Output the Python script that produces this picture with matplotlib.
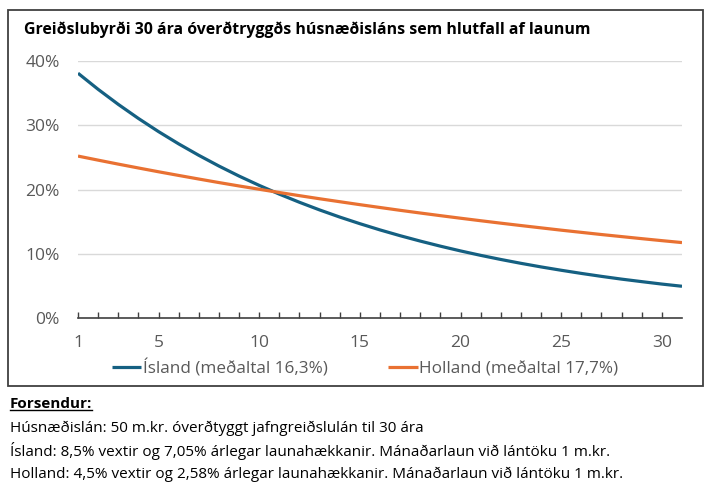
import matplotlib
matplotlib.use("Agg")
import matplotlib.pyplot as plt
import matplotlib.patches as patches
from matplotlib.lines import Line2D
from matplotlib.ticker import FixedLocator, FuncFormatter

plt.rcParams['font.family'] = ['Open Sans', 'DejaVu Sans']

# data (share of monthly wages, %)
years = list(range(1, 32))
island = [38.10, 35.59, 33.25, 31.06, 29.01, 27.10, 25.32, 23.65, 22.09, 20.64,
          19.28, 18.01, 16.82, 15.71, 14.68, 13.71, 12.81, 11.97, 11.18, 10.44,
          9.75, 9.11, 8.51, 7.95, 7.43, 6.94, 6.48, 6.05, 5.66, 5.28, 4.94]
holland = [25.20, 24.57, 23.95, 23.35, 22.76, 22.19, 21.63, 21.08, 20.55, 20.04,
           19.53, 19.04, 18.56, 18.10, 17.64, 17.20, 16.76, 16.34, 15.93, 15.53,
           15.14, 14.76, 14.39, 14.03, 13.67, 13.33, 12.99, 12.67, 12.35, 12.04, 11.74]
yticks = [0, 10, 20, 30, 40]
xlabels = [1, 5, 10, 15, 20, 25, 30]

title = "Greiðslubyrði 30 ára óverðtryggðs húsnæðisláns sem hlutfall af launum"
label_is = "Ísland (meðaltal 16,3%)"
label_nl = "Holland (meðaltal 17,7%)"
notes = ["Húsnæðislán: 50 m.kr. óverðtyggt jafngreiðslulán til 30 ára",
         "Ísland: 8,5% vextir og 7,05% árlegar launahækkanir. Mánaðarlaun við lántöku 1 m.kr.",
         "Holland: 4,5% vextir og 2,58% árlegar launahækkanir. Mánaðarlaun við lántöku 1 m.kr."]

W, H = 713, 487
fig = plt.figure(figsize=(W / 100, H / 100), dpi=100)
ax = fig.add_axes([78 / W, 1 - 318 / H, (682 - 78) / W, (318 - 61) / H])

ax.plot(years, island, color='#156082', lw=2.3, label=label_is, solid_capstyle='butt')
ax.plot(years, holland, color='#E97132', lw=2.3, label=label_nl, solid_capstyle='butt')

ax.set_xlim(1, 31)
ax.set_ylim(0, 40)
ax.set_yticks(yticks)
ax.yaxis.set_major_formatter(FuncFormatter(lambda v, p: f"{v:.0f}%"))
ax.grid(axis='y', color='#d9d9d9', lw=1)
ax.set_axisbelow(True)

ax.xaxis.set_major_locator(FixedLocator(list(range(1, 31))))
ax.xaxis.set_major_formatter(FuncFormatter(lambda v, p: f"{int(v)}" if int(v) in xlabels else ""))
ax.tick_params(axis='x', direction='in', length=4, width=1, color='#404040',
               pad=12, labelsize=12.5, labelcolor='#595959')
ax.tick_params(axis='y', length=0, pad=13, labelsize=12.5, labelcolor='#595959')
for s in ['top', 'right', 'left']:
    ax.spines[s].set_visible(False)
ax.spines['bottom'].set_color('#404040')
ax.spines['bottom'].set_linewidth(1.2)

leg = fig.legend(loc='center', bbox_to_anchor=(365 / W, 1 - 368 / H), ncol=2, frameon=False,
                 fontsize=12.3, handlelength=1.75, handletextpad=0.1, columnspacing=3.5,
                 labelcolor='#595959')

fig.text(24 / W, 1 - 30 / H, title, fontsize=11.4, fontweight='bold', va='center', color='black')

# frame around the chart
fig.patches.append(patches.Rectangle((8 / W, 1 - 386 / H), (703 - 8) / W, (386 - 10) / H,
                                     transform=fig.transFigure, fill=False,
                                     edgecolor='#404040', lw=1.3))

head = fig.text(10 / W, 1 - 404 / H, "Forsendur:", fontsize=11, fontweight='bold', va='center')
for i, line in enumerate(notes):
    fig.text(10 / W, 1 - (428 + 23 * i) / H, line, fontsize=11, va='center')

# underline for the heading
fig.canvas.draw()
bb = head.get_window_extent().transformed(fig.transFigure.inverted())
fig.lines.append(Line2D([bb.x0, bb.x1], [bb.y0 + 0.003, bb.y0 + 0.003], transform=fig.transFigure,
                        color='black', lw=1))

fig.savefig("out.png", dpi=100)
